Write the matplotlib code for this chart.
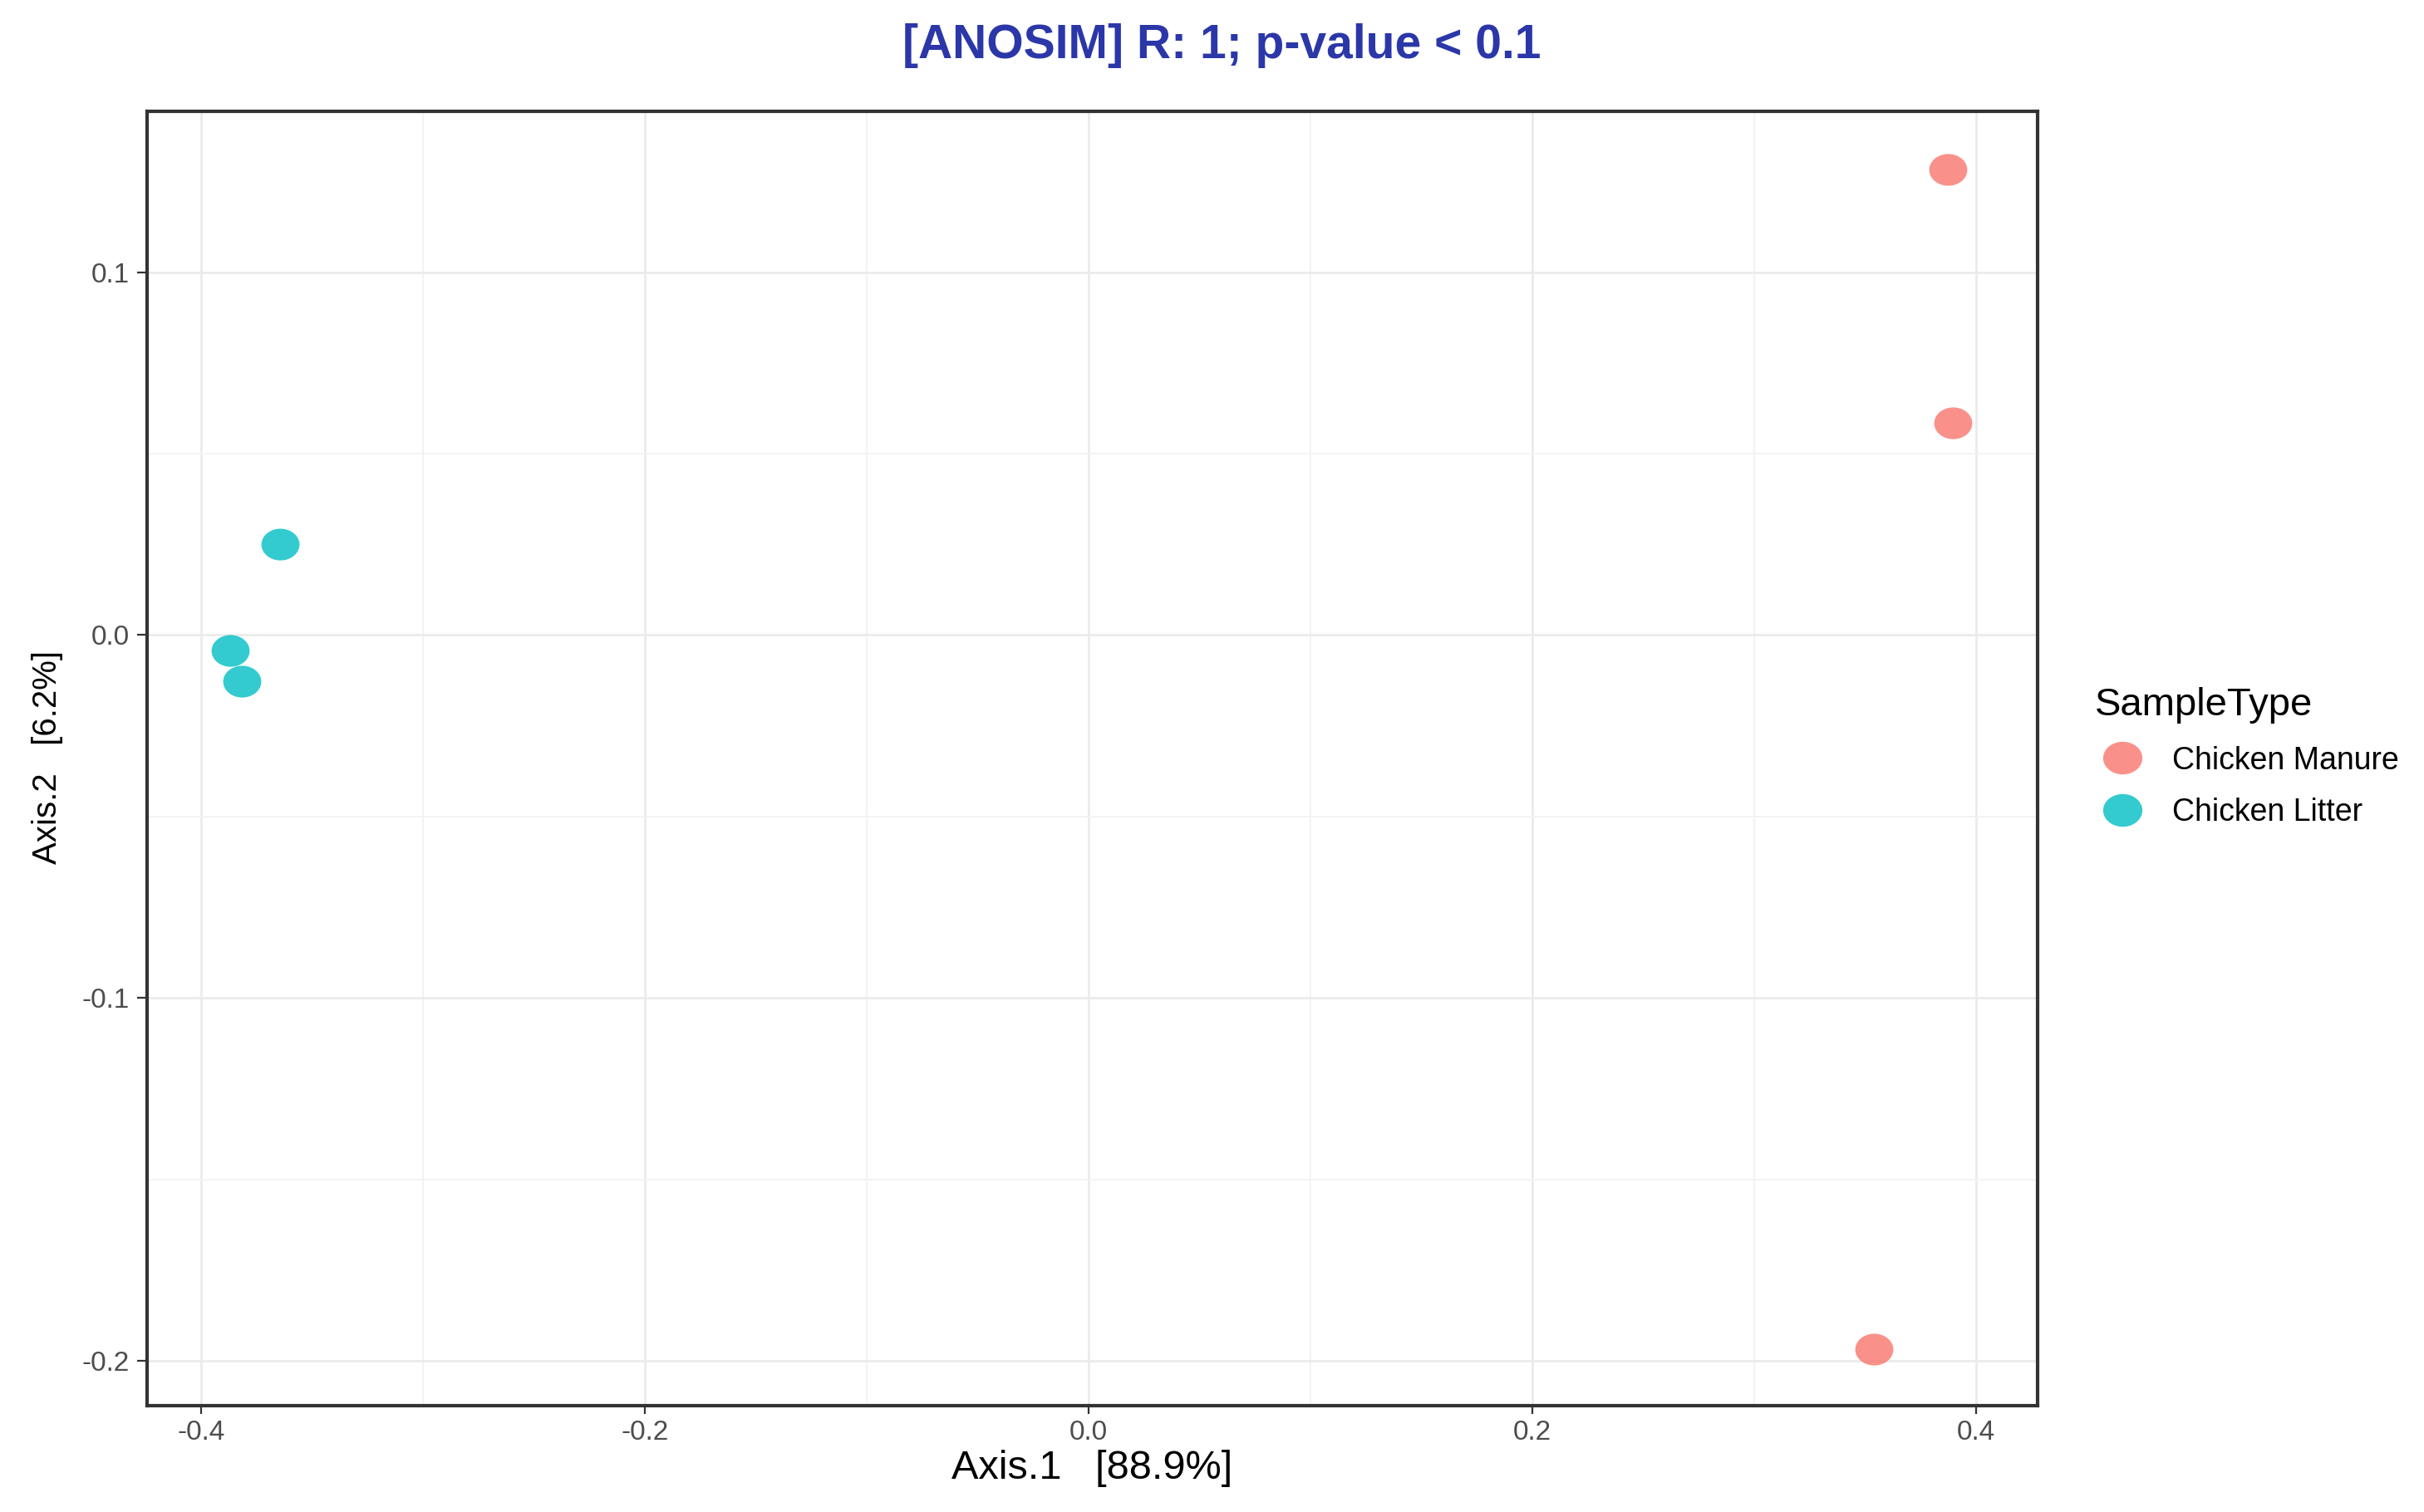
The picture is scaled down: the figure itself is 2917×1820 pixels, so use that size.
import numpy as np
import matplotlib
matplotlib.use("Agg")
import matplotlib.pyplot as plt
from matplotlib.path import Path
from matplotlib.lines import Line2D
from matplotlib.ticker import MultipleLocator

plt.rcParams['font.family'] = ['Liberation Sans', 'DejaVu Sans']

# PCoA coordinates
manure_x = [0.3875, 0.3895, 0.354]
manure_y = [0.1283, 0.0584, -0.1968]
litter_x = [-0.3645, -0.3868, -0.3819]
litter_y = [0.0251, -0.0043, -0.0128]

groups = ["Chicken Manure", "Chicken Litter"]
colors = ["#F8766D", "#00BFC4"]

xticks = [-0.4, -0.2, 0.0, 0.2, 0.4]
yticks = [-0.2, -0.1, 0.0, 0.1]

# the source picture was stretched sideways, so the dots are ellipses
t = np.linspace(0, 2 * np.pi, 64)
ellipse = Path(np.column_stack([1.2 * np.cos(t), np.sin(t)]), closed=True)

fig = plt.figure(figsize=(29.17, 18.20), dpi=100)
ax = fig.add_axes([0.0607, 0.0703, 0.7799, 0.856])

ax.plot(manure_x, manure_y, ls="none", marker=ellipse, ms=33,
        color=colors[0], alpha=0.8, mew=0, zorder=3)
ax.plot(litter_x, litter_y, ls="none", marker=ellipse, ms=33,
        color=colors[1], alpha=0.8, mew=0, zorder=3)

ax.set_xlim(-0.4244, 0.4279)
ax.set_ylim(-0.2124, 0.1443)
ax.set_xticks(xticks)
ax.set_yticks(yticks)
ax.set_xticklabels([f"{v:.1f}" for v in xticks])
ax.set_yticklabels([f"{v:.1f}" for v in yticks])
ax.xaxis.set_minor_locator(MultipleLocator(0.1))
ax.yaxis.set_minor_locator(MultipleLocator(0.05))

ax.grid(which="major", color="#EBEBEB", lw=2.0)
ax.grid(which="minor", color="#F3F3F3", lw=1.4)
ax.set_axisbelow(True)

ax.tick_params(which="major", width=1.6, color="#333333",
               labelsize=24, labelcolor="#4D4D4D")
ax.tick_params(axis="x", which="major", length=7, pad=5)
ax.tick_params(axis="y", which="major", length=9, pad=6)
ax.tick_params(which="minor", length=0)
for s in ax.spines.values():
    s.set_color("#333333")
    s.set_linewidth(3.0)

ax.set_xlabel("Axis.1   [88.9%]", fontsize=35, color="black")
ax.set_ylabel("Axis.2   [6.2%]", fontsize=29, color="black")
ax.xaxis.set_label_coords(0.4505, 0.041, transform=fig.transFigure)
ax.yaxis.set_label_coords(0.0262, 0.499, transform=fig.transFigure)

fig.text(0.504, 0.970, "[ANOSIM] R: 1; p-value < 0.1", ha="center", va="center",
         fontsize=41, fontweight="bold", color="#2B37A8")

handles = [Line2D([], [], ls="none", marker=ellipse, ms=34, color=c, alpha=0.8, mew=0)
           for c in colors]
leg = fig.legend(handles, groups, title="SampleType", loc="upper left",
                 bbox_to_anchor=(0.8642, 0.5454), frameon=False, fontsize=27,
                 title_fontsize=34, borderpad=0, borderaxespad=0,
                 handlelength=1.76, handletextpad=0.72, labelspacing=0.7,
                 alignment="left")

fig.savefig("out.png", dpi=100)
